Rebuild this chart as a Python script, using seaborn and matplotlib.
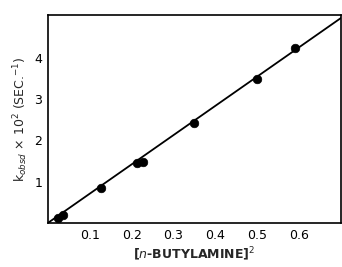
import matplotlib
matplotlib.use("Agg")
import matplotlib.pyplot as plt
import seaborn as sns
import pandas as pd

# data
amine_sq = [0.025, 0.035, 0.128, 0.213, 0.227, 0.348, 0.50, 0.59]
k_obsd = [0.13, 0.195, 0.85, 1.45, 1.47, 2.42, 3.48, 4.25]
fit_x = [0.0, 0.70]
fit_y = [0.0, 4.97]
xticks = [0.1, 0.2, 0.3, 0.4, 0.5, 0.6]
xticklabels = ["0.1", "0.2", "0.3", "0.4", "0.5", "0.6"]
yticks = [1, 2, 3, 4]
yticklabels = ["1", "2", "3", "4"]

sns.set_style("white")
plt.rcParams["font.family"] = ["DejaVu Sans"]

fig = plt.figure(figsize=(3.42, 2.67), dpi=100)
ax = fig.add_axes([0.140, 0.165, 0.857, 0.780])

pts = pd.DataFrame({"x": amine_sq, "y": k_obsd})
fit = pd.DataFrame({"x": fit_x, "y": fit_y})
sns.lineplot(data=fit, x="x", y="y", ax=ax, color="black", linewidth=1.3)
sns.scatterplot(data=pts, x="x", y="y", ax=ax, color="black", s=38,
                edgecolor="black", linewidth=0.5, zorder=3)

ax.set_xlim(0, 0.70)
ax.set_ylim(0, 5.05)
ax.set_xticks(xticks)
ax.set_xticklabels(xticklabels)
ax.set_yticks(yticks)
ax.set_yticklabels(yticklabels)
ax.tick_params(direction="in", length=4, width=1, colors="black",
               labelsize=9, pad=4)
for s in ax.spines.values():
    s.set_color("black")
    s.set_linewidth(1.2)

ax.set_xlabel(r"[$n$-BUTYLAMINE]$^2$", fontsize=9, fontweight="bold", labelpad=3)
ax.set_ylabel(r"k$_{obsd}$ × 10$^2$ (SEC.$^{-1}$)", fontsize=9, labelpad=3)

fig.savefig("out.png", dpi=100)
